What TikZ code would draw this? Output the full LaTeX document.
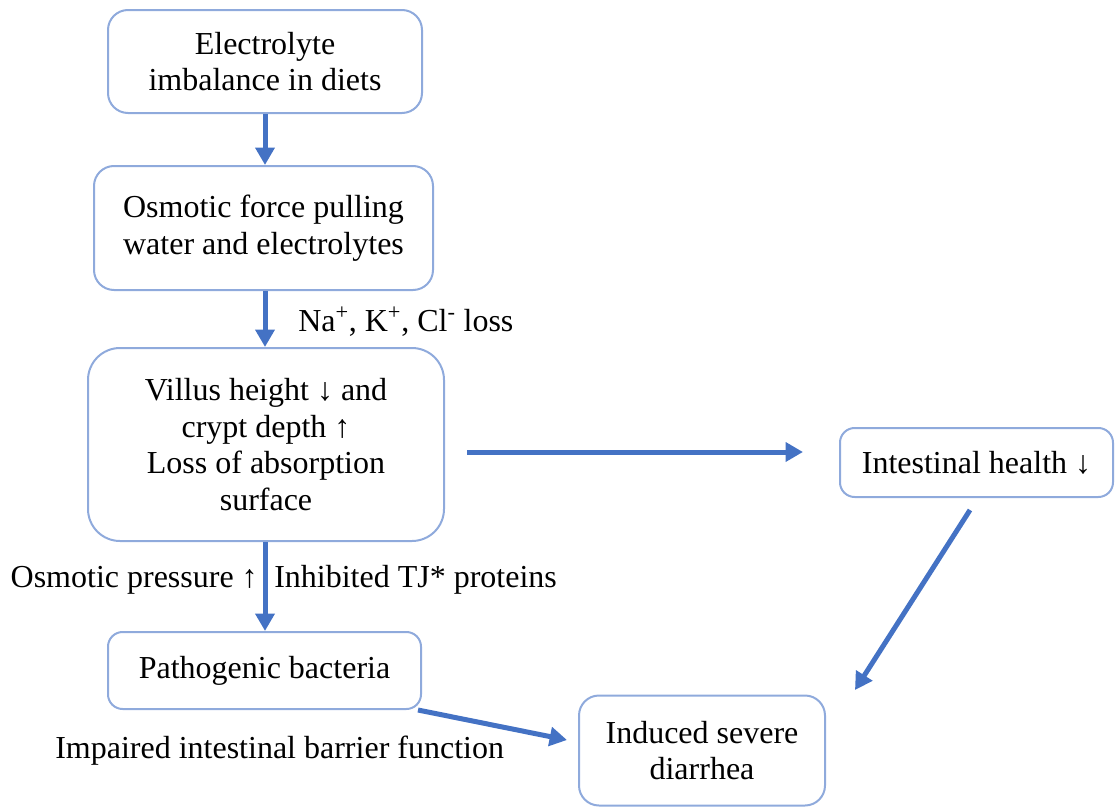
\documentclass[tikz,border=0pt]{standalone}
\usepackage{fontspec}
\setmainfont{Liberation Serif}
\usepackage{xcolor}
\usetikzlibrary{arrows.meta,positioning,calc}

\definecolor{boxline}{HTML}{8FAADC}
\definecolor{arrowblue}{HTML}{4472C4}

\tikzset{
    box/.style={draw=boxline, line width=1.5pt, rounded corners=15pt, align=center,
        inner sep=0pt, font=\fontsize{24}{27.4}\selectfont},
    flow/.style={draw=arrowblue, line width=3.75pt, -{Triangle[length=13pt,width=14pt]}},
    lbl/.style={inner sep=0pt, font=\fontsize{24}{27.4}\selectfont}
}

\begin{document}
\begin{tikzpicture}[x=0.75pt,y=-0.75pt]
    \useasboundingbox (0,0) rectangle (1115,807);

    % Boxes
    \node[box, minimum width=314*0.75pt, minimum height=103*0.75pt] (elec) at (265,61.5)
        {Electrolyte\\imbalance in diets};
    \node[box, minimum width=339*0.75pt, minimum height=124*0.75pt] (osm) at (263.5,228)
        {Osmotic force pulling\\water and electrolytes};
    \node[box, rounded corners=24pt, minimum width=356*0.75pt, minimum height=193*0.75pt] (villus) at (266,444.5)
        {Villus height ↓ and\\crypt depth ↑\\Loss of absorption\\surface};
    \node[box, rounded corners=11pt, minimum width=273*0.75pt, minimum height=69*0.75pt] (health) at (976.5,462.5)
        {Intestinal health ↓};
    \node[box, rounded corners=11pt, minimum width=313*0.75pt, minimum height=77*0.75pt] (patho) at (264.5,670.5)
        {Pathogenic bacteria};
    \node[box, minimum width=246*0.75pt, minimum height=110*0.75pt] (diarr) at (702,750.5)
        {Induced severe\\diarrhea};

    % free ends of the arrows that do not touch a box
    \coordinate (vout) at (467,452);
    \coordinate (hin) at (803,452);
    \coordinate (hstart) at (970,510);
    \coordinate (hend) at (855,690);
    \coordinate (pstart) at (418,710);
    \coordinate (pend) at (567,740);

    % Arrows
    \draw[flow] (elec.south) -- (elec.south |- osm.north);
    \draw[flow] (elec.south |- osm.south) -- (elec.south |- villus.north);
    \draw[flow] (vout) -- (hin);
    \draw[flow] (elec.south |- villus.south) -- (elec.south |- patho.north);
    \draw[flow] (hstart) -- (hend);
    \draw[flow] (pstart) -- (pend);

    % Labels
    \node[lbl, anchor=west] (ions) at (298,322) {Na\textsuperscript{+}, K\textsuperscript{+}, Cl\textsuperscript{-} loss};
    \node[lbl, anchor=east] (press) at (258,580) {Osmotic pressure ↑};
    \node[lbl, anchor=west] (tj) at (274,580) {Inhibited TJ* proteins};
    \node[lbl, anchor=west] (barrier) at (55,751) {Impaired intestinal barrier function};
\end{tikzpicture}
\end{document}
